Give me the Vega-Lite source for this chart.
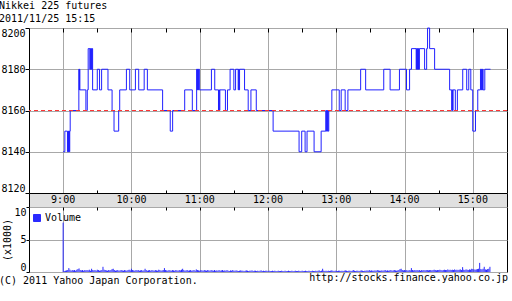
{
  "$schema": "https://vega.github.io/schema/vega-lite/v6.json",
  "padding": {"left": -2, "top": 0, "right": 0, "bottom": 0},
  "background": "#ffffff",
  "spacing": 0,
  "bounds": "flush",
  "resolve": {"scale": {"color": "independent"}, "legend": {"color": "independent"}},
  "config": {
    "font": "DejaVu Sans Mono",
    "view": {"stroke": "#000000", "strokeWidth": 1},
    "axis": {
      "labelFont": "DejaVu Sans Mono", "labelFontSize": 10, "labelColor": "#000000",
      "titleFont": "DejaVu Sans Mono", "titleFontSize": 10, "titleFontWeight": "normal", "titleColor": "#000000",
      "gridColor": "#a8a8a8", "gridOpacity": 1, "gridWidth": 1, "tickColor": "#000000", "domain": false
    },
    "title": {"font": "DejaVu Sans Mono", "fontSize": 10, "fontWeight": "normal", "color": "#000000"},
    "legend": {"labelFont": "DejaVu Sans Mono", "labelFontSize": 10, "labelColor": "#000000"}
  },
  "title": {"text": "http://stocks.finance.yahoo.co.jp", "orient": "bottom", "anchor": "end", "frame": "bounds", "offset": 0, "dy": -13},
  "datasets": {
    "price": [
      {"m":540,"p":8140},{"m":541.5,"p":8150},{"m":543.8,"p":8140},{"m":544.3,"p":8150},{"m":544.7,"p":8140},{"m":545.1,"p":8150},{"m":545.5,"p":8140},{"m":545.8,"p":8150},{"m":546.2,"p":8160},
      {"m":553.8,"p":8180},{"m":554.1,"p":8170},{"m":554.4,"p":8180},{"m":554.7,"p":8170},{"m":560,"p":8160},{"m":561.2,"p":8170},{"m":562,"p":8190},
      {"m":563.5,"p":8180},{"m":563.8,"p":8190},{"m":564.2,"p":8180},{"m":564.6,"p":8190},{"m":565,"p":8180},{"m":565.4,"p":8190},{"m":565.9,"p":8170},
      {"m":570,"p":8180},{"m":572,"p":8170},{"m":573.8,"p":8180},{"m":579.4,"p":8170},{"m":583,"p":8160},{"m":584.7,"p":8150},{"m":588.8,"p":8160},{"m":589.7,"p":8170},
      {"m":595.6,"p":8180},{"m":598.5,"p":8170},{"m":603.5,"p":8180},{"m":606.4,"p":8170},{"m":611.2,"p":8180},{"m":614,"p":8170},
      {"m":627.4,"p":8160},{"m":634.1,"p":8150},{"m":636.2,"p":8160},{"m":646.8,"p":8170},{"m":653.5,"p":8160},
      {"m":657.3,"p":8180},{"m":657.7,"p":8170},{"m":658.1,"p":8180},{"m":658.5,"p":8170},{"m":658.9,"p":8180},{"m":659.7,"p":8170},
      {"m":670.3,"p":8180},{"m":673.2,"p":8170},{"m":676.5,"p":8160},{"m":676.9,"p":8170},{"m":677.3,"p":8160},{"m":677.7,"p":8170},
      {"m":682.6,"p":8160},{"m":684.4,"p":8170},{"m":686.7,"p":8180},{"m":690,"p":8170},{"m":691.5,"p":8180},{"m":693.8,"p":8170},{"m":694.2,"p":8180},{"m":694.6,"p":8170},{"m":695,"p":8180},
      {"m":699.4,"p":8170},{"m":702.6,"p":8160},{"m":705,"p":8170},{"m":709.7,"p":8160},{"m":724.5,"p":8150},
      {"m":747.3,"p":8140},{"m":749.6,"p":8150},{"m":752.6,"p":8140},{"m":754.3,"p":8150},{"m":760.5,"p":8140},{"m":766.7,"p":8150},
      {"m":770.8,"p":8160},{"m":771.2,"p":8150},{"m":771.6,"p":8160},{"m":772,"p":8150},{"m":772.4,"p":8160},{"m":772.8,"p":8150},{"m":773.4,"p":8160},
      {"m":776.1,"p":8170},{"m":782.6,"p":8160},{"m":784.3,"p":8170},{"m":787.8,"p":8160},{"m":790.2,"p":8170},{"m":801.4,"p":8180},{"m":805.8,"p":8170},
      {"m":821.7,"p":8180},{"m":827.3,"p":8170},{"m":835.5,"p":8180},{"m":841.7,"p":8170},{"m":844.4,"p":8180},{"m":846.1,"p":8190},
      {"m":850.2,"p":8180},{"m":850.6,"p":8190},{"m":851,"p":8180},{"m":851.4,"p":8190},{"m":851.8,"p":8180},{"m":852.2,"p":8190},{"m":852.6,"p":8180},{"m":853,"p":8190},
      {"m":857.6,"p":8180},{"m":859.4,"p":8190},{"m":860.2,"p":8200},{"m":862,"p":8190},{"m":866.4,"p":8180},
      {"m":879.6,"p":8170},{"m":881.4,"p":8160},{"m":881.8,"p":8170},{"m":882.2,"p":8160},{"m":882.6,"p":8170},{"m":884.6,"p":8160},{"m":886.4,"p":8170},
      {"m":891.1,"p":8180},{"m":894.6,"p":8170},{"m":896.4,"p":8180},{"m":898.2,"p":8170},{"m":899.9,"p":8150},{"m":902.3,"p":8160},{"m":904.3,"p":8170},
      {"m":906.7,"p":8180},{"m":907.3,"p":8170},{"m":907.7,"p":8180},{"m":908.1,"p":8170},{"m":908.5,"p":8180},{"m":909,"p":8170},{"m":910.5,"p":8180},{"m":915.5,"p":8180}
    ],
    "ref": [{"p": 8160}],
    "hours": [
      {"m":540,"label":"9:00"},{"m":600,"label":"10:00"},{"m":660,"label":"11:00"},{"m":720,"label":"12:00"},
      {"m":780,"label":"13:00"},{"m":840,"label":"14:00"},{"m":900,"label":"15:00"}
    ],
    "volume": [
      {"m":540,"v":7.6},
      {"m":541,"v":0.15},{"m":542,"v":0.2},{"m":543,"v":0.25},{"m":544,"v":0.3},{"m":545,"v":0.6},{"m":546,"v":0.35},{"m":547,"v":0.2},{"m":548,"v":0.3},{"m":549,"v":0.25},{"m":550,"v":0.3},
      {"m":551,"v":0.2},{"m":552,"v":0.35},{"m":553,"v":0.45},{"m":554,"v":0.55},{"m":555,"v":0.3},{"m":556,"v":0.25},{"m":557,"v":0.3},{"m":558,"v":0.2},{"m":559,"v":0.3},{"m":560,"v":0.25},
      {"m":561,"v":0.3},{"m":562,"v":0.25},{"m":563,"v":0.35},{"m":564,"v":0.2},{"m":565,"v":0.5},{"m":566,"v":0.3},{"m":567,"v":0.25},{"m":568,"v":0.3},{"m":569,"v":0.2},{"m":570,"v":0.35},
      {"m":571,"v":0.3},{"m":572,"v":0.2},{"m":573,"v":0.25},{"m":574,"v":0.3},{"m":575,"v":0.8},{"m":576,"v":0.35},{"m":577,"v":0.3},{"m":578,"v":0.25},{"m":579,"v":0.2},{"m":580,"v":0.3},
      {"m":581,"v":0.25},{"m":582,"v":0.3},{"m":583,"v":0.45},{"m":584,"v":0.5},{"m":585,"v":0.3},{"m":586,"v":0.2},{"m":587,"v":0.25},{"m":588,"v":0.3},{"m":589,"v":0.2},{"m":590,"v":0.25},
      {"m":591,"v":0.3},{"m":592,"v":0.25},{"m":593,"v":0.2},{"m":594,"v":0.3},{"m":595,"v":0.25},{"m":596,"v":0.2},{"m":597,"v":0.3},{"m":598,"v":0.35},{"m":599,"v":0.25},{"m":600,"v":0.5},
      {"m":601,"v":0.3},{"m":602,"v":0.25},{"m":603,"v":0.2},{"m":604,"v":0.3},{"m":605,"v":0.25},{"m":606,"v":0.3},{"m":607,"v":0.2},{"m":608,"v":0.25},{"m":609,"v":0.3},{"m":610,"v":0.2},
      {"m":611,"v":0.25},{"m":612,"v":0.5},{"m":613,"v":0.3},{"m":614,"v":0.2},{"m":615,"v":0.25},{"m":616,"v":0.3},{"m":617,"v":0.2},{"m":618,"v":0.3},{"m":619,"v":0.25},{"m":620,"v":0.2},
      {"m":621,"v":0.3},{"m":622,"v":0.25},{"m":623,"v":0.2},{"m":624,"v":0.35},{"m":625,"v":0.3},{"m":626,"v":0.2},{"m":627,"v":0.25},{"m":628,"v":0.3},{"m":629,"v":0.6},{"m":630,"v":0.3},
      {"m":631,"v":0.25},{"m":632,"v":0.2},{"m":633,"v":0.3},{"m":634,"v":0.25},{"m":635,"v":0.2},{"m":636,"v":0.3},{"m":637,"v":0.25},{"m":638,"v":0.2},{"m":639,"v":0.3},{"m":640,"v":0.25},
      {"m":641,"v":0.2},{"m":642,"v":0.3},{"m":643,"v":0.25},{"m":644,"v":0.35},{"m":645,"v":0.5},{"m":646,"v":0.3},{"m":647,"v":0.2},{"m":648,"v":0.25},{"m":649,"v":0.3},{"m":650,"v":0.2},
      {"m":651,"v":0.25},{"m":652,"v":0.3},{"m":653,"v":0.2},{"m":654,"v":0.25},{"m":655,"v":0.3},{"m":656,"v":0.2},{"m":657,"v":0.4},{"m":658,"v":0.3},{"m":659,"v":0.25},{"m":660,"v":0.2},
      {"m":661,"v":0.3},{"m":662,"v":0.25},{"m":663,"v":0.2},{"m":664,"v":0.3},{"m":665,"v":0.25},{"m":666,"v":0.2},{"m":667,"v":0.3},{"m":668,"v":0.25},{"m":669,"v":0.2},{"m":670,"v":0.3},
      {"m":671,"v":0.25},{"m":672,"v":0.2},{"m":673,"v":0.3},{"m":674,"v":0.2},{"m":675,"v":0.25},{"m":676,"v":0.2},{"m":677,"v":0.3},{"m":678,"v":0.2},{"m":679,"v":0.25},{"m":680,"v":0.3},
      {"m":681,"v":0.2},{"m":682,"v":0.25},{"m":683,"v":0.2},{"m":684,"v":0.3},{"m":685,"v":0.2},{"m":686,"v":0.15},{"m":687,"v":0.25},{"m":688,"v":0.2},{"m":689,"v":0.3},{"m":690,"v":0.2},
      {"m":691,"v":0.2},{"m":692,"v":0.25},{"m":693,"v":0.2},{"m":694,"v":0.15},{"m":695,"v":0.2},{"m":696,"v":0.25},{"m":697,"v":0.2},{"m":698,"v":0.2},{"m":699,"v":0.15},{"m":700,"v":0.2},
      {"m":701,"v":0.25},{"m":702,"v":0.2},{"m":703,"v":0.15},{"m":704,"v":0.2},{"m":705,"v":0.2},{"m":706,"v":0.25},{"m":707,"v":0.15},{"m":708,"v":0.2},{"m":709,"v":0.2},{"m":710,"v":0.15},
      {"m":711,"v":0.2},{"m":712,"v":0.15},{"m":713,"v":0.2},{"m":714,"v":0.25},{"m":715,"v":0.15},{"m":716,"v":0.2},{"m":717,"v":0.15},{"m":718,"v":0.2},{"m":719,"v":0.2},{"m":720,"v":0.15},
      {"m":721,"v":0.2},{"m":722,"v":0.15},{"m":723,"v":0.15},{"m":724,"v":0.2},{"m":725,"v":0.15},{"m":726,"v":0.2},{"m":727,"v":0.15},{"m":728,"v":0.15},{"m":729,"v":0.2},{"m":730,"v":0.15},
      {"m":731,"v":0.15},{"m":732,"v":0.2},{"m":733,"v":0.15},{"m":734,"v":0.15},{"m":735,"v":0.2},{"m":736,"v":0.15},{"m":737,"v":0.15},{"m":738,"v":0.2},{"m":739,"v":0.15},{"m":740,"v":0.15},
      {"m":741,"v":0.2},{"m":742,"v":0.15},{"m":743,"v":0.15},{"m":744,"v":0.2},{"m":745,"v":0.15},{"m":746,"v":0.15},{"m":747,"v":0.2},{"m":748,"v":0.15},{"m":749,"v":0.15},{"m":750,"v":0.2},
      {"m":751,"v":0.15},{"m":752,"v":0.15},{"m":753,"v":0.2},{"m":754,"v":0.15},{"m":755,"v":0.15},{"m":756,"v":0.2},{"m":757,"v":0.15},{"m":758,"v":0.15},{"m":759,"v":0.2},{"m":760,"v":0.15},
      {"m":761,"v":0.15},{"m":762,"v":0.2},{"m":763,"v":0.15},{"m":764,"v":0.2},{"m":765,"v":0.25},{"m":766,"v":0.15},{"m":767,"v":0.2},{"m":768,"v":0.5},{"m":769,"v":0.2},{"m":770,"v":0.15},
      {"m":771,"v":0.2},{"m":772,"v":0.15},{"m":773,"v":0.2},{"m":774,"v":0.15},{"m":775,"v":0.2},{"m":776,"v":0.25},{"m":777,"v":0.2},{"m":778,"v":0.15},{"m":779,"v":0.2},{"m":780,"v":0.2},
      {"m":781,"v":0.15},{"m":782,"v":0.2},{"m":783,"v":0.2},{"m":784,"v":0.15},{"m":785,"v":0.2},{"m":786,"v":0.15},{"m":787,"v":0.2},{"m":788,"v":0.25},{"m":789,"v":0.2},{"m":790,"v":0.15},
      {"m":791,"v":0.2},{"m":792,"v":0.2},{"m":793,"v":0.15},{"m":794,"v":0.2},{"m":795,"v":0.3},{"m":796,"v":0.2},{"m":797,"v":0.15},{"m":798,"v":0.2},{"m":799,"v":0.2},{"m":800,"v":0.15},
      {"m":801,"v":0.2},{"m":802,"v":0.25},{"m":803,"v":0.2},{"m":804,"v":0.15},{"m":805,"v":0.2},{"m":806,"v":0.2},{"m":807,"v":0.25},{"m":808,"v":0.2},{"m":809,"v":0.3},{"m":810,"v":0.2},
      {"m":811,"v":0.25},{"m":812,"v":0.2},{"m":813,"v":0.2},{"m":814,"v":0.25},{"m":815,"v":0.2},{"m":816,"v":0.3},{"m":817,"v":0.25},{"m":818,"v":0.2},{"m":819,"v":0.2},{"m":820,"v":0.25},
      {"m":821,"v":0.2},{"m":822,"v":0.25},{"m":823,"v":0.3},{"m":824,"v":0.2},{"m":825,"v":0.25},{"m":826,"v":0.2},{"m":827,"v":0.25},{"m":828,"v":0.3},{"m":829,"v":0.2},{"m":830,"v":0.25},
      {"m":831,"v":0.3},{"m":832,"v":0.25},{"m":833,"v":0.2},{"m":834,"v":0.25},{"m":835,"v":0.3},{"m":836,"v":0.45},{"m":837,"v":0.5},{"m":838,"v":0.3},{"m":839,"v":0.25},{"m":840,"v":0.3},
      {"m":841,"v":0.25},{"m":842,"v":0.3},{"m":843,"v":0.2},{"m":844,"v":0.3},{"m":845,"v":0.25},{"m":846,"v":0.6},{"m":847,"v":0.3},{"m":848,"v":0.25},{"m":849,"v":0.3},{"m":850,"v":0.25},
      {"m":851,"v":0.3},{"m":852,"v":0.25},{"m":853,"v":0.3},{"m":854,"v":0.2},{"m":855,"v":0.3},{"m":856,"v":0.25},{"m":857,"v":0.3},{"m":858,"v":0.25},{"m":859,"v":0.3},{"m":860,"v":0.3},
      {"m":861,"v":0.25},{"m":862,"v":0.3},{"m":863,"v":0.3},{"m":864,"v":0.25},{"m":865,"v":0.3},{"m":866,"v":0.35},{"m":867,"v":0.3},{"m":868,"v":0.25},{"m":869,"v":0.3},{"m":870,"v":0.3},
      {"m":871,"v":0.35},{"m":872,"v":0.3},{"m":873,"v":0.25},{"m":874,"v":0.3},{"m":875,"v":0.35},{"m":876,"v":0.3},{"m":877,"v":0.3},{"m":878,"v":0.4},{"m":879,"v":0.3},{"m":880,"v":0.35},
      {"m":881,"v":0.3},{"m":882,"v":0.35},{"m":883,"v":0.3},{"m":884,"v":0.4},{"m":885,"v":0.3},{"m":886,"v":0.35},{"m":887,"v":0.3},{"m":888,"v":0.35},{"m":889,"v":0.4},{"m":890,"v":0.3},
      {"m":891,"v":0.75},{"m":892,"v":0.35},{"m":893,"v":0.3},{"m":894,"v":0.4},{"m":895,"v":0.35},{"m":896,"v":0.3},{"m":897,"v":0.4},{"m":898,"v":0.35},{"m":899,"v":0.5},{"m":900,"v":0.45},
      {"m":901,"v":0.4},{"m":902,"v":0.35},{"m":903,"v":0.4},{"m":904,"v":0.45},{"m":905,"v":0.5},{"m":906,"v":1.4},{"m":907,"v":0.45},{"m":908,"v":0.4},{"m":909,"v":0.5},{"m":910,"v":0.8},
      {"m":911,"v":0.4},{"m":912,"v":0.35},{"m":913,"v":0.45},{"m":914,"v":0.5},{"m":915,"v":0.8}
    ]
  },
  "vconcat": [
    {
      "width": 478,
      "height": 165,
      "title": {"text": ["Nikkei 225 futures", "2011/11/25 15:15"], "anchor": "start", "frame": "group", "dx": -30, "offset": 2.5, "lineHeight": 13},
      "layer": [
        {
          "data": {"name": "price"},
          "mark": {"type": "line", "interpolate": "step-after", "color": "#2020ff", "strokeWidth": 1},
          "encoding": {
            "x": {
              "field": "m", "type": "quantitative",
              "scale": {"domain": [510, 930], "nice": false, "zero": false},
              "axis": {
                "orient": "top", "title": null, "labels": false,
                "values": [540, 570, 600, 630, 660, 690, 720, 750, 780, 810, 840, 870, 900],
                "tickSize": -4, "grid": true,
                "gridOpacity": {"condition": {"test": "datum.value % 60 === 0", "value": 1}, "value": 0}
              }
            },
            "y": {
              "field": "p", "type": "quantitative",
              "scale": {"domain": [8120, 8200], "nice": false, "zero": false},
              "axis": {"title": null, "values": [8120, 8140, 8160, 8180, 8200], "format": "d", "tickSize": 4, "labelPadding": 0, "labelFlush": true, "grid": true}
            }
          }
        },
        {
          "data": {"name": "ref"},
          "mark": {"type": "rule", "color": "#ff3333", "strokeDash": [4, 3], "strokeWidth": 1},
          "encoding": {"y": {"field": "p", "type": "quantitative"}}
        }
      ]
    },
    {
      "width": 478,
      "height": 14,
      "view": {"fill": "#e0e0e0", "stroke": "#000000"},
      "data": {"name": "hours"},
      "mark": {"type": "text", "font": "DejaVu Sans Mono", "fontSize": 10, "baseline": "middle", "align": "center", "color": "#000000"},
      "encoding": {
        "x": {
          "field": "m", "type": "quantitative",
          "scale": {"domain": [510, 930], "nice": false, "zero": false},
          "axis": {"orient": "top", "title": null, "labels": false, "grid": false, "tickSize": 3,
                   "values": [570, 630, 690, 750, 810, 870]}
        },
        "text": {"field": "label"}
      }
    },
    {
      "width": 478,
      "height": 65,
      "title": {"text": "(C) 2011 Yahoo Japan Corporation.", "orient": "bottom", "anchor": "start", "frame": "group", "dx": -30, "offset": 3},
      "data": {"name": "volume"},
      "mark": {"type": "rule", "strokeWidth": 1},
      "encoding": {
        "x": {
          "field": "m", "type": "quantitative",
          "scale": {"domain": [510, 930], "nice": false, "zero": false},
          "axis": {
            "orient": "top", "title": null, "labels": false,
            "values": [540, 570, 600, 630, 660, 690, 720, 750, 780, 810, 840, 870, 900],
            "tickSize": -3, "grid": true,
            "gridOpacity": {"condition": {"test": "datum.value % 60 === 0", "value": 1}, "value": 0}
          }
        },
        "y": {
          "field": "v", "type": "quantitative",
          "scale": {"domain": [0, 10], "nice": false},
          "axis": {"title": "(x1000)", "titlePadding": 1, "values": [0, 5, 10], "tickSize": 3, "labelPadding": 0, "labelFlush": true, "grid": true}
        },
        "y2": {"datum": 0},
        "color": {
          "datum": "Volume",
          "scale": {"range": ["#2a2aff"]},
          "legend": {
            "title": null, "orient": "none", "legendX": 3, "legendY": 6,
            "symbolType": "square", "symbolSize": 49, "labelOffset": 3, "padding": 0,
            "encode": {"symbols": {"update": {"fill": {"value": "#2a2aff"}, "stroke": {"value": "#000066"}, "strokeWidth": {"value": 1}, "opacity": {"value": 1}}}}
          }
        }
      }
    }
  ]
}
